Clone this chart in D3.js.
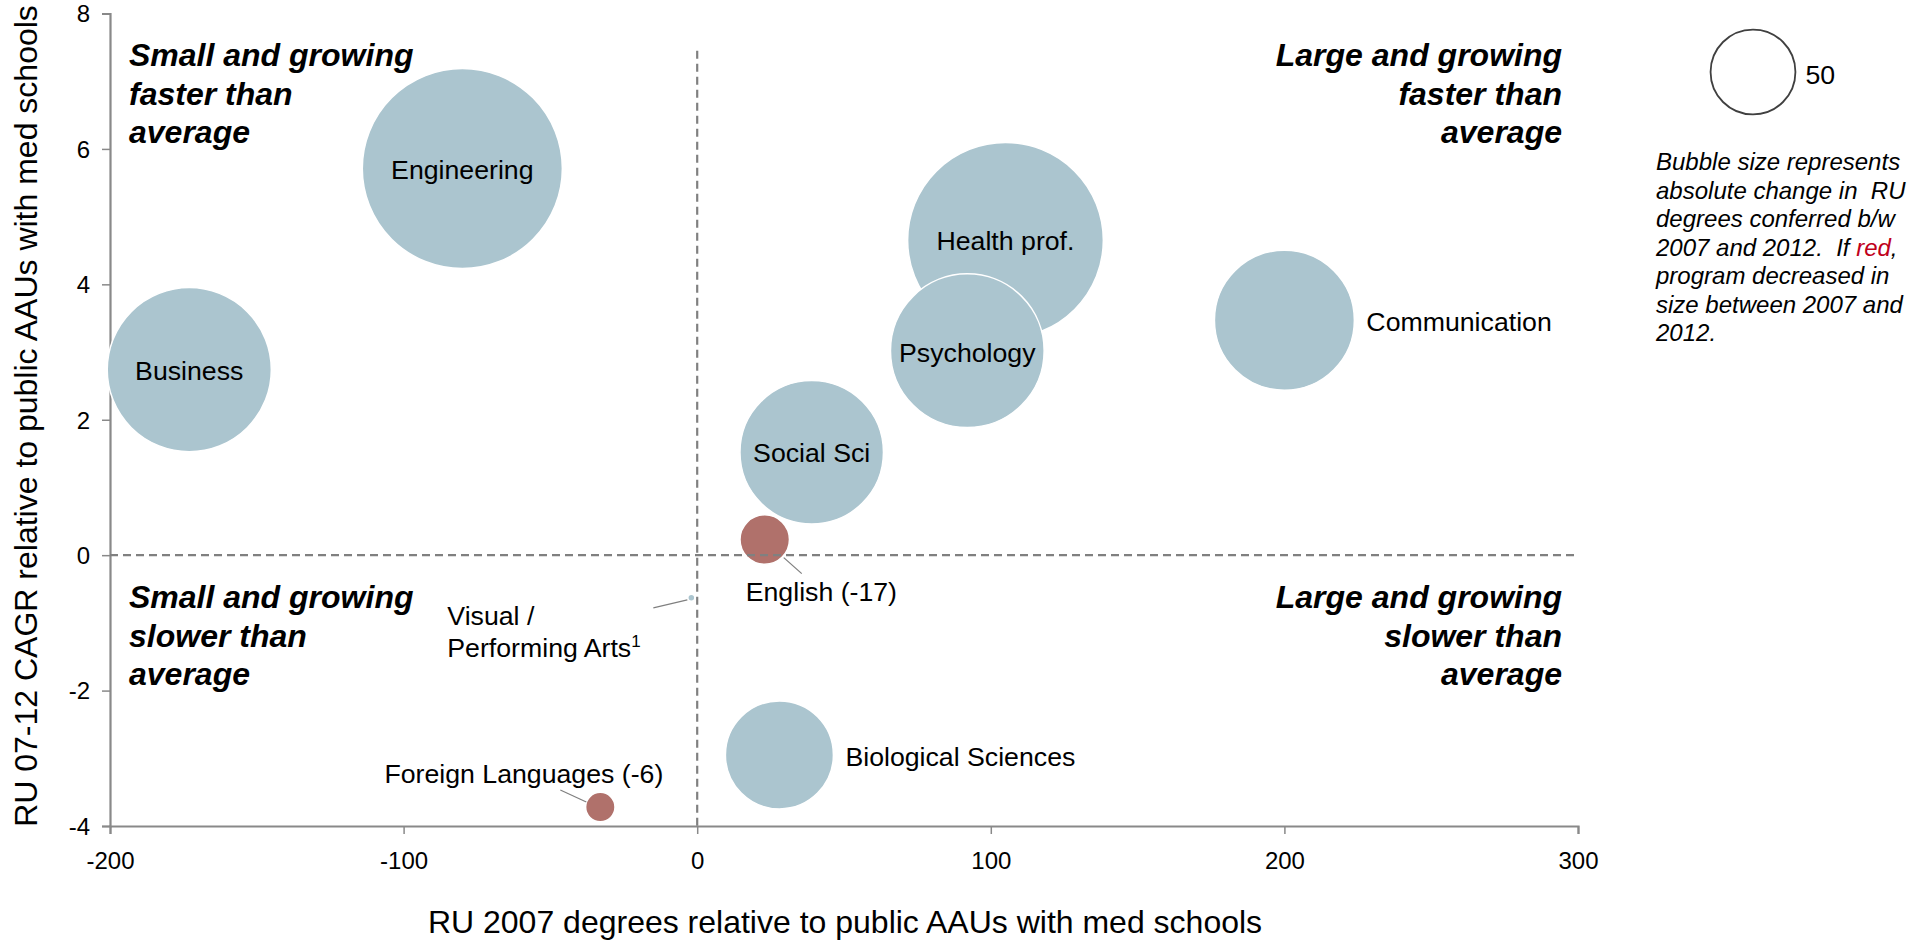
<!DOCTYPE html>
<html>
<head>
<meta charset="utf-8">
<title>RU degrees vs public AAUs</title>
<script src="https://d3js.org/d3.v7.min.js"></script>
<style>
  body { margin: 0; background: #fff; }
  svg { display: block; font-family: "Liberation Sans", Arial, sans-serif; }
  .quad { font-size: 32px; font-weight: bold; font-style: italic; }
  .tick text { font-size: 24px; fill: #000; }
  .lbl { font-size: 26.7px; fill: #000; }
  .note { font-size: 24px; font-style: italic; fill: #000; white-space: pre; }
</style>
</head>
<body>
<script>
// data
var programs   = ["Engineering", "Business", "Health prof.", "Psychology", "Communication",
                  "Social Sci", "English (-17)", "Visual / Performing Arts", "Biological Sciences", "Foreign Languages (-6)"];
var rel2007    = [-80, -173, 105, 92, 200, 39, 23, -2, 28, -33];          // x: RU 2007 degrees vs peers
var cagrRel    = [5.71, 2.74, 4.65, 3.02, 3.47, 1.52, 0.23, -0.63, -2.95, -3.72]; // y: CAGR vs peers
var absChange  = [278, 187, 266, 164, 136, 143, 17, 0.3, 81, 6];          // bubble size
var decreased  = [false, false, false, false, false, false, true, false, false, true];
var xTicks = [-200, -100, 0, 100, 200, 300];
var yTicks = [-4, -2, 0, 2, 4, 6, 8];
var legendValue = 50;

var W = 1918, H = 942;
var svg = d3.select("body").append("svg").attr("width", W).attr("height", H);

var x = d3.scaleLinear().domain([-200, 300]).range([110, 1578]);
var y = d3.scaleLinear().domain([-4, 8]).range([826, 13.5]);
var r = d3.scaleSqrt().domain([0, 300]).range([0, 6 * Math.sqrt(300)]);

var axisColor = "#898989";
var plain = function(d) { return String(d); };  // keep the hyphen minus

// axes
var gx = svg.append("g").attr("transform", "translate(0," + y(-4) + ")")
  .call(d3.axisBottom(x).tickValues(xTicks).tickSize(8).tickPadding(18).tickFormat(plain));
var gy = svg.append("g").attr("transform", "translate(" + x(-200) + ",0)")
  .call(d3.axisLeft(y).tickValues(yTicks).tickSize(8).tickPadding(12).tickFormat(plain));
[gx, gy].forEach(function(g) {
  g.select(".domain").attr("stroke", axisColor).attr("stroke-width", 2.2);
  g.selectAll(".tick line").attr("stroke", axisColor).attr("stroke-width", 1.5);
  g.selectAll(".tick text").attr("font-family", "Liberation Sans, Arial, sans-serif");
});
gy.selectAll(".tick text").attr("dy", "0.35em");

// bubbles
var rows = programs.map(function(p, i) {
  return { name: p, x: rel2007[i], y: cagrRel[i], size: absChange[i], red: decreased[i] };
});
svg.append("g").selectAll("circle")
  .data(rows)
  .enter().append("circle")
  .attr("cx", function(d) { return x(d.x); })
  .attr("cy", function(d) { return y(d.y); })
  .attr("r", function(d) { return Math.max(r(d.size), 3.5); })
  .attr("fill", function(d) { return d.red ? "#b0716b" : "#abc5cf"; })
  .attr("stroke", "#fff")
  .attr("stroke-width", 1.5);

// quadrant dividers
svg.append("line")
  .attr("x1", x(-200)).attr("x2", x(300)).attr("y1", y(0)).attr("y2", y(0))
  .attr("stroke", "#808080").attr("stroke-width", 2.2).attr("stroke-dasharray", "8,5");
svg.append("line")
  .attr("x1", x(0)).attr("x2", x(0)).attr("y1", y(7.45)).attr("y2", y(-4))
  .attr("stroke", "#808080").attr("stroke-width", 2.2).attr("stroke-dasharray", "8,5");

// labels: placement relative to the bubble centre
var place = {
  "Engineering":   { dx: 0, dy: 10, anchor: "middle" },
  "Business":      { dx: 0, dy: 10, anchor: "middle" },
  "Health prof.":  { dx: 0, dy: 10, anchor: "middle" },
  "Psychology":    { dx: 0, dy: 11, anchor: "middle" },
  "Social Sci":    { dx: 0, dy: 10, anchor: "middle" },
  "Communication": { dx: "r", dy: 11, anchor: "start" },
  "Biological Sciences": { dx: "r", dy: 11, anchor: "start" },
  "English (-17)": { dx: -19, dy: 61, anchor: "start", lead: [19, 18, 37, 34] },
  "Visual / Performing Arts": { dx: -244, dy: 27, anchor: "start", lead: [-38, 10, -4, 2] },
  "Foreign Languages (-6)": { dx: 63, dy: -24, anchor: "end", lead: [-40, -17, -14, -5] }
};

var lg = svg.append("g");
rows.forEach(function(d) {
  var p = place[d.name];
  var cx = x(d.x), cy = y(d.y);
  var dx = p.dx === "r" ? r(d.size) + 12 : p.dx;
  if (p.lead) {
    lg.append("line")
      .attr("x1", cx + p.lead[0]).attr("y1", cy + p.lead[1])
      .attr("x2", cx + p.lead[2]).attr("y2", cy + p.lead[3])
      .attr("stroke", "#7f7f7f").attr("stroke-width", 1.2);
  }
  var t = lg.append("text").attr("class", "lbl")
    .attr("x", cx + dx).attr("y", cy + p.dy)
    .attr("text-anchor", p.anchor);
  if (d.name === "Visual / Performing Arts") {
    t.append("tspan").attr("x", cx + dx).text("Visual /");
    t.append("tspan").attr("x", cx + dx).attr("dy", 32).text("Performing Arts");
    t.append("tspan").attr("dy", -10).attr("font-size", "17px").text("1");
  } else {
    t.text(d.name);
  }
});

// quadrant captions
var quads = [
  { lines: ["Small and growing", "faster than", "average"], x: 129, y: 66, anchor: "start" },
  { lines: ["Large and growing", "faster than", "average"], x: 1562, y: 66, anchor: "end" },
  { lines: ["Small and growing", "slower than", "average"], x: 129, y: 608, anchor: "start" },
  { lines: ["Large and growing", "slower than", "average"], x: 1562, y: 608, anchor: "end" }
];
quads.forEach(function(q) {
  var t = svg.append("text").attr("class", "quad").attr("text-anchor", q.anchor);
  q.lines.forEach(function(l, i) {
    t.append("tspan").attr("x", q.x).attr("y", q.y + i * 38.7).text(l);
  });
});

// axis titles
svg.append("text")
  .attr("x", 845).attr("y", 933)
  .attr("text-anchor", "middle").attr("font-size", "32px")
  .text("RU 2007 degrees relative to public AAUs with med schools");
svg.append("text")
  .attr("transform", "translate(37,416) rotate(-90)")
  .attr("text-anchor", "middle").attr("font-size", "32px")
  .text("RU 07-12 CAGR relative to public AAUs with med schools");

// size legend
svg.append("circle")
  .attr("cx", 1753).attr("cy", 72).attr("r", r(legendValue))
  .attr("fill", "none").attr("stroke", "#404040").attr("stroke-width", 1.8);
svg.append("text").attr("class", "lbl")
  .attr("x", 1753 + r(legendValue) + 10).attr("y", 84)
  .text(legendValue);

var note = svg.append("text").attr("class", "note");
var noteLines = [
  ["Bubble size represents"],
  ["absolute change in  RU"],
  ["degrees conferred b/w"],
  ["2007 and 2012.  If ", "red", ","],
  ["program decreased in"],
  ["size between 2007 and"],
  ["2012."]
];
noteLines.forEach(function(parts, i) {
  var line = note.append("tspan").attr("x", 1656).attr("y", 170 + i * 28.5);
  parts.forEach(function(s, j) {
    if (j === 0) line.text(s);
    else note.append("tspan").text(s).attr("fill", s === "red" ? "#c0001a" : "#000");
  });
});
</script>
</body>
</html>
